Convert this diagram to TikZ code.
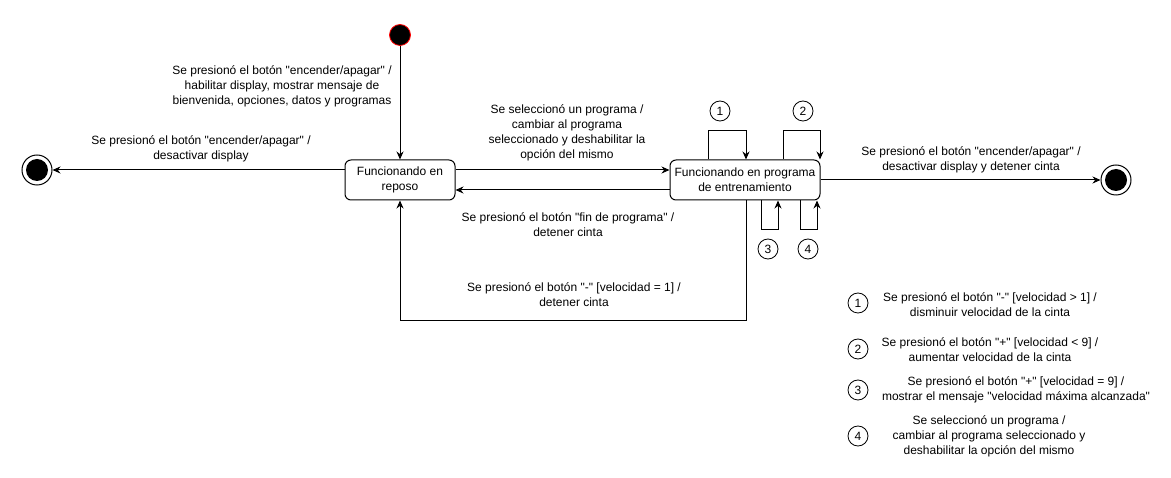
\documentclass[tikz,border=0pt]{standalone}
\usepackage{fontspec}
\setmainfont{Liberation Sans}[Ligatures=TeXOff]
\usetikzlibrary{arrows.meta}
\begin{document}
\begin{tikzpicture}[x=1pt,y=-1pt,
  every node/.style={font=\fontsize{12}{15}\selectfont},
  arr/.style={draw=black,line width=1pt,-{Stealth[length=8pt,width=7pt]}},
  state/.style={draw=black,line width=1pt,rounded corners=6pt,fill=white,align=center,inner sep=0pt},
  lbl/.style={align=center,inner sep=0pt},
  num/.style={draw=black,line width=0.8pt,circle,minimum size=20pt,inner sep=0pt},
  finalouter/.style={draw=black,line width=1pt,circle,minimum size=30pt,inner sep=0pt,fill=white},
  finalinner/.style={fill=black,circle,minimum size=22pt,inner sep=0pt}
]
\useasboundingbox (0,0) rectangle (1171,478);
% states
\node[circle,fill=black,draw=red,line width=0.8pt,minimum size=21pt,inner sep=0pt] (init) at (400,35) {};
\node[state,minimum width=110pt,minimum height=40pt] (reposo) at (400,180) {Funcionando en\\reposo};
\node[state,minimum width=150pt,minimum height=40pt] (train) at (745,180) {Funcionando en programa\\de entrenamiento};
\node[finalouter] (finL) at (37,170) {};
\node[finalinner] (finLi) at (37,170) {};
\node[finalouter] (finR) at (1116,180) {};
\node[finalinner] (finRi) at (1116,180) {};
% transitions
\draw[arr] (init.south) -- (reposo.north);
\draw[arr] ([yshift=10pt]reposo.west) -- (finL.east);
\draw[arr] ([yshift=10pt]reposo.east) -- ([yshift=10pt]train.west);
\draw[arr] ([yshift=-10pt]train.west) -- ([yshift=-10pt]reposo.east);
\draw[arr] (train.east) -- (finR.west);
\draw[arr] ([xshift=1pt]train.south) -- ++(0,120) -| (reposo.south);
% self loops
\draw[arr] ([xshift=-37pt]train.north) -- ++(0,-29) -| ([xshift=1pt]train.north);
\draw[arr] ([xshift=38pt]train.north) -- ++(0,-29) -| ([xshift=75pt]train.north);
\draw[arr] ([xshift=16pt]train.south) -- ++(0,29) -| ([xshift=33pt]train.south);
\draw[arr] ([xshift=55pt]train.south) -- ++(0,29) -| ([xshift=72pt]train.south);
\node[num] (n1) at (720,111) {1};
\node[num] (n2) at (803,111) {2};
\node[num] (n3) at (768,249) {3};
\node[num] (n4) at (808,249) {4};
% labels
\node[lbl] (l0) at (282,86) {Se presionó el botón "encender/apagar" /\\habilitar display, mostrar mensaje de\\bienvenida, opciones, datos y programas};
\node[lbl] (l1) at (201,149) {Se presionó el botón "encender/apagar" /\\desactivar display};
\node[lbl] (l2) at (567,133) {Se seleccionó un programa /\\cambiar al programa\\seleccionado y deshabilitar la\\opción del mismo};
\node[lbl] (l3) at (568,225) {Se presionó el botón "fin de programa" /\\detener cinta};
\node[lbl] (l4) at (971,160) {Se presionó el botón "encender/apagar" /\\desactivar display y detener cinta};
\node[lbl] (l5) at (574,295) {Se presionó el botón "-" [velocidad = 1] /\\detener cinta};
% legend
\node[num] (g1) at (858,303) {1};
\node[num] (g2) at (858,349) {2};
\node[num] (g3) at (858,390) {3};
\node[num] (g4) at (858,436) {4};
\node[lbl] (t1) at (990,305) {Se presionó el botón "-" [velocidad > 1] /\\disminuir velocidad de la cinta};
\node[lbl] (t2) at (990,350) {Se presionó el botón "+" [velocidad < 9] /\\aumentar velocidad de la cinta};
\node[lbl] (t3) at (1016,390) {Se presionó el botón "+" [velocidad = 9] /\\mostrar el mensaje "velocidad máxima alcanzada"};
\node[lbl] (t4) at (989,436) {Se seleccionó un programa /\\cambiar al programa seleccionado y\\deshabilitar la opción del mismo};
\end{tikzpicture}
\end{document}
